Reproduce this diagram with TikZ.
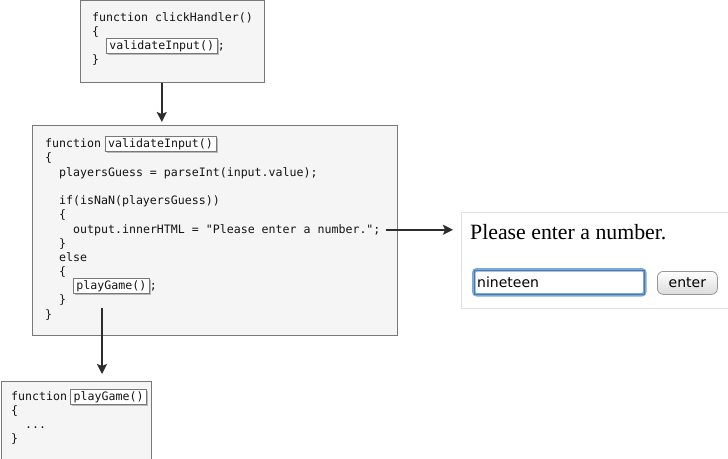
\documentclass[tikz,border=0pt]{standalone}
\usepackage{fontspec}
\usepackage{tikz}
\usetikzlibrary{arrows.meta,positioning,calc,shadows}
\newfontfamily\codefont{DejaVu Sans Mono}[Ligatures=TeXOff]
\newfontfamily\uifont{DejaVu Sans}
\newfontfamily\pagefont{Liberation Serif}
\definecolor{boxFill}{RGB}{246,245,246}
\definecolor{boxLine}{RGB}{120,120,120}
\definecolor{flowColor}{RGB}{45,45,45}
\definecolor{glowBlue}{RGB}{120,170,222}
\definecolor{btnLine}{RGB}{150,150,150}
\tikzset{
  codebox/.style={draw=boxLine, fill=boxFill, line width=0.9pt, anchor=north west, inner sep=0pt},
  code/.style={font=\codefont\fontsize{11.6}{14}\selectfont, anchor=base west, inner sep=0pt, text=black!92},
  callbox/.style={code, draw=boxLine, fill=white, inner xsep=3pt, inner ysep=2pt, line width=0.8pt,
    drop shadow={shadow xshift=1.6pt, shadow yshift=-1.6pt, opacity=0.5}},
  flow/.style={draw=flowColor, line width=1.5pt, -{Stealth[length=10pt,width=10pt,inset=2pt]}},
}

\begin{document}
\begin{tikzpicture}[x=1pt, y=-1pt]
    \useasboundingbox (0,0) rectangle (728,458);
    % clickHandler
    \node[codebox, minimum width=184pt, minimum height=82pt] (click) at (80,0) {};
    \node[code] (f1) at (92,21) {function clickHandler()};
    \node[code] at (92,35) {\{};
    \node[callbox] (call1) at (106,49) {validateInput()};
    \node[code, base right=0pt of call1] {;};
    \node[code] at (92,63) {\}};
    % validateInput
    \node[codebox, minimum width=365pt, minimum height=210pt] (check) at (32,125) {};
    \node[code] (f2) at (45,147) {function};
    \node[callbox, base right=3.5pt of f2] (head2) {validateInput()};
    \node[code] at (45,161) {\{};
    \node[code] at (59,176) {playersGuess = parseInt(input.value);};
    \node[code] at (59,204) {if(isNaN(playersGuess))};
    \node[code] at (59,218) {\{};
    \node[code] (outline) at (73,233) {output.innerHTML = "Please enter a number.";};
    \node[code] at (59,247) {\}};
    \node[code] at (59,261) {else};
    \node[code] at (59,275) {\{};
    \node[callbox] (call2) at (73,289) {playGame()};
    \node[code, base right=0pt of call2] {;};
    \node[code] at (59,303) {\}};
    \node[code] at (45,318) {\}};
    % playGame
    \node[codebox, minimum width=150pt, minimum height=80pt] (play) at (0.5,381) {};
    \node[code] (f3) at (11,400) {function};
    \node[callbox, base right=3pt of f3] (head3) {playGame()};
    \node[code] at (11,414) {\{};
    \node[code] at (25,428) {...};
    \node[code] at (11,442) {\}};
    % browser output
    \node[draw=black!12, fill=white, line width=0.8pt, anchor=north west, inner sep=0pt,
      minimum width=267pt, minimum height=96pt] (page) at (461,212) {};
    \node[font=\pagefont\fontsize{21.8}{24}\selectfont, anchor=base west, inner sep=0pt] (msg) at (470,239) {Please enter a number.};
    \node[draw=glowBlue, line width=3.5pt, rounded corners=3pt, fill=white, anchor=north west,
      minimum width=171pt, minimum height=25pt] (guess) at (472,268) {};
    \draw[glowBlue!70!black, line width=0.5pt] ([shift={(1.8pt,-1.8pt)}]guess.north west) rectangle ([shift={(-1.8pt,1.8pt)}]guess.south east);
    \node[font=\uifont\fontsize{14}{16}\selectfont, anchor=base west, inner sep=0pt] (guesstext) at (477,287) {nineteen};
    \node[draw=btnLine, line width=0.8pt, rounded corners=6pt, top color=white, bottom color=black!14,
      anchor=north west, minimum width=60pt, minimum height=23pt, inner sep=0pt,
      font=\uifont\fontsize{14}{16}\selectfont] (enter) at (657,271) {enter};
    % calls
    \coordinate (exit2) at (102,308);
    \draw[flow, shorten >=3pt] (call1 |- click.south) -- (call1 |- check.north);
    \draw[flow, shorten >=7pt] (exit2) -- (exit2 |- play.north);
    \draw[flow, shorten >=8pt] ([xshift=5pt]outline.east) -- (outline.east -| page.west);
  \end{tikzpicture}
\end{document}
